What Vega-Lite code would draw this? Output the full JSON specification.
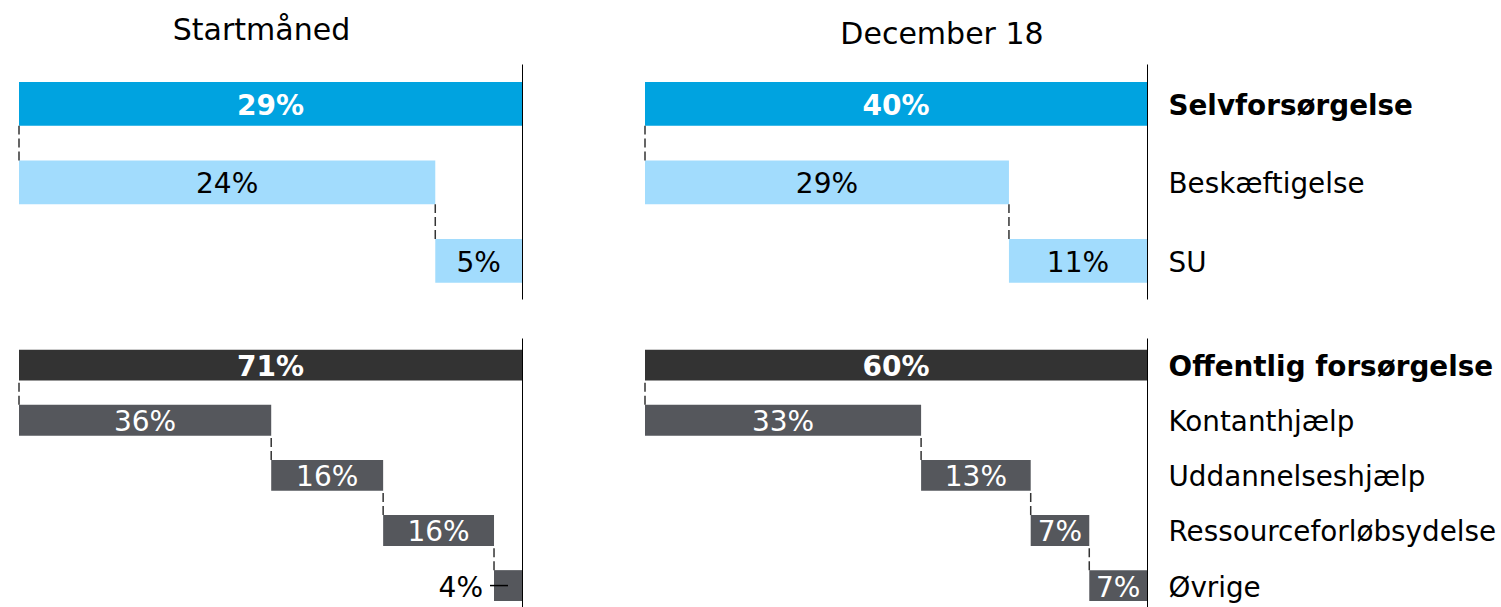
{
  "$schema": "https://vega.github.io/schema/vega-lite/v6.json",
  "background": "white",
  "padding": {"left": 18, "top": 16, "right": 0, "bottom": 0},
  "config": {
    "view": {"stroke": null},
    "font": "DejaVu Sans",
    "axis": {"grid": false}
  },
  "data": {
    "values": [
      {"panel": "Startmåned", "grp": "selv", "cat": "Selvforsørgelse", "kind": "selv_total", "level": "total", "value": 0.29, "start": 0, "end": 0.29, "prev": null},
      {"panel": "Startmåned", "grp": "selv", "cat": "Beskæftigelse", "kind": "selv_sub", "level": "sub", "value": 0.24, "start": 0, "end": 0.24, "prev": "Selvforsørgelse"},
      {"panel": "Startmåned", "grp": "selv", "cat": "SU", "kind": "selv_sub", "level": "sub", "value": 0.05, "start": 0.24, "end": 0.29, "prev": "Beskæftigelse"},
      {"panel": "Startmåned", "grp": "off", "cat": "Offentlig forsørgelse", "kind": "off_total", "level": "total", "value": 0.71, "start": 0, "end": 0.71, "prev": null},
      {"panel": "Startmåned", "grp": "off", "cat": "Kontanthjælp", "kind": "off_sub", "level": "sub", "value": 0.36, "start": 0, "end": 0.356, "prev": "Offentlig forsørgelse"},
      {"panel": "Startmåned", "grp": "off", "cat": "Uddannelseshjælp", "kind": "off_sub", "level": "sub", "value": 0.16, "start": 0.356, "end": 0.514, "prev": "Kontanthjælp"},
      {"panel": "Startmåned", "grp": "off", "cat": "Ressourceforløbsydelse", "kind": "off_sub", "level": "sub", "value": 0.16, "start": 0.514, "end": 0.6705, "prev": "Uddannelseshjælp"},
      {"panel": "Startmåned", "grp": "off", "cat": "Øvrige", "kind": "off_sub", "level": "sub", "value": 0.04, "start": 0.6705, "end": 0.71, "prev": "Ressourceforløbsydelse"},
      {"panel": "December 18", "grp": "selv", "cat": "Selvforsørgelse", "kind": "selv_total", "level": "total", "value": 0.40, "start": 0, "end": 0.40, "prev": null},
      {"panel": "December 18", "grp": "selv", "cat": "Beskæftigelse", "kind": "selv_sub", "level": "sub", "value": 0.29, "start": 0, "end": 0.29, "prev": "Selvforsørgelse"},
      {"panel": "December 18", "grp": "selv", "cat": "SU", "kind": "selv_sub", "level": "sub", "value": 0.11, "start": 0.29, "end": 0.40, "prev": "Beskæftigelse"},
      {"panel": "December 18", "grp": "off", "cat": "Offentlig forsørgelse", "kind": "off_total", "level": "total", "value": 0.60, "start": 0, "end": 0.60, "prev": null},
      {"panel": "December 18", "grp": "off", "cat": "Kontanthjælp", "kind": "off_sub", "level": "sub", "value": 0.33, "start": 0, "end": 0.33, "prev": "Offentlig forsørgelse"},
      {"panel": "December 18", "grp": "off", "cat": "Uddannelseshjælp", "kind": "off_sub", "level": "sub", "value": 0.13, "start": 0.33, "end": 0.461, "prev": "Kontanthjælp"},
      {"panel": "December 18", "grp": "off", "cat": "Ressourceforløbsydelse", "kind": "off_sub", "level": "sub", "value": 0.07, "start": 0.461, "end": 0.531, "prev": "Uddannelseshjælp"},
      {"panel": "December 18", "grp": "off", "cat": "Øvrige", "kind": "off_sub", "level": "sub", "value": 0.07, "start": 0.531, "end": 0.60, "prev": "Ressourceforløbsydelse"}
    ]
  },
  "spacing": 39,
  "vconcat": [
    {
      "spacing": 122,
      "hconcat": [
        {
          "width": 503, "height": 235,
          "title": {"text": "Startmåned", "fontSize": 30, "fontWeight": "normal", "color": "black", "anchor": "middle", "baseline": "bottom", "offset": -12, "dx": -9},
          "transform": [{"filter": "datum.panel == 'Startmåned' && datum.grp == 'selv'"}],
          "encoding": {
            "y": {"field": "cat", "type": "nominal", "scale": {"domain": ["Selvforsørgelse", "Beskæftigelse", "SU"], "paddingInner": 0.443, "paddingOuter": 0.2185, "align": 0.525},
                  "axis": {"orient": "right", "labels": false, "ticks": false, "domain": true, "domainColor": "black", "domainWidth": 1, "title": null}}
          },
          "layer": [
            {"mark": {"type": "bar"},
             "encoding": {"x": {"field": "start", "type": "quantitative", "scale": {"nice": false, "zero": true}, "axis": null}, "x2": {"field": "end"},
                          "color": {"field": "kind", "type": "nominal", "scale": {"domain": ["selv_total", "selv_sub", "off_total", "off_sub"], "range": ["#00A3E0", "#A2DCFD", "#333333", "#55575C"]}, "legend": null}}},
            {"transform": [{"filter": "isValid(datum.prev)"}],
             "mark": {"type": "rule", "strokeDash": [9, 4], "strokeWidth": 1.5, "color": "#333333"},
             "encoding": {"x": {"field": "start", "type": "quantitative", "axis": null}, "y": {"field": "cat", "type": "nominal", "bandPosition": 0}, "y2": {"field": "prev", "bandPosition": 1}}},
            {"transform": [{"fold": ["start", "end"], "as": ["edge", "pos"]}, {"aggregate": [{"op": "mean", "field": "pos", "as": "mid"}], "groupby": ["cat", "value", "kind", "level", "start"]}, {"filter": "datum.level == 'total'"}],
             "mark": {"type": "text", "fontSize": 28, "fontWeight": "bold", "color": "white", "dy": 3},
             "encoding": {"x": {"field": "mid", "type": "quantitative", "axis": null}, "text": {"field": "value", "format": ".0%"}}},
            {"transform": [{"fold": ["start", "end"], "as": ["edge", "pos"]}, {"aggregate": [{"op": "mean", "field": "pos", "as": "mid"}], "groupby": ["cat", "value", "kind", "level", "start"]}, {"filter": "datum.level == 'sub' && datum.value >= 0.05"}],
             "mark": {"type": "text", "fontSize": 28, "dy": 3},
             "encoding": {"x": {"field": "mid", "type": "quantitative", "axis": null}, "text": {"field": "value", "format": ".0%"},
                          "color": {"condition": {"test": "datum.kind == 'selv_sub'", "value": "black"}, "value": "white"}}}
          ]
        },
        {
          "width": 502, "height": 235,
          "title": {"text": "December 18", "fontSize": 30, "fontWeight": "normal", "color": "black", "anchor": "middle", "baseline": "bottom", "offset": -16, "dx": 46},
          "transform": [{"filter": "datum.panel == 'December 18' && datum.grp == 'selv'"}],
          "encoding": {
            "y": {"field": "cat", "type": "nominal", "scale": {"domain": ["Selvforsørgelse", "Beskæftigelse", "SU"], "paddingInner": 0.443, "paddingOuter": 0.2185, "align": 0.525},
                  "axis": {"orient": "right", "labels": true, "labelFontSize": 27.8, "labelColor": "black", "labelPadding": 21, "labelLimit": 600, "labelOffset": 3,
                           "labelFontWeight": {"condition": {"test": "datum.value == 'Selvforsørgelse' || datum.value == 'Offentlig forsørgelse'", "value": "bold"}, "value": "normal"},
                           "ticks": false, "domain": true, "domainColor": "black", "domainWidth": 1, "title": null}}
          },
          "layer": [
            {"mark": {"type": "bar"},
             "encoding": {"x": {"field": "start", "type": "quantitative", "scale": {"nice": false, "zero": true}, "axis": null}, "x2": {"field": "end"},
                          "color": {"field": "kind", "type": "nominal", "scale": {"domain": ["selv_total", "selv_sub", "off_total", "off_sub"], "range": ["#00A3E0", "#A2DCFD", "#333333", "#55575C"]}, "legend": null}}},
            {"transform": [{"filter": "isValid(datum.prev)"}],
             "mark": {"type": "rule", "strokeDash": [9, 4], "strokeWidth": 1.5, "color": "#333333"},
             "encoding": {"x": {"field": "start", "type": "quantitative", "axis": null}, "y": {"field": "cat", "type": "nominal", "bandPosition": 0}, "y2": {"field": "prev", "bandPosition": 1}}},
            {"transform": [{"fold": ["start", "end"], "as": ["edge", "pos"]}, {"aggregate": [{"op": "mean", "field": "pos", "as": "mid"}], "groupby": ["cat", "value", "kind", "level", "start"]}, {"filter": "datum.level == 'total'"}],
             "mark": {"type": "text", "fontSize": 28, "fontWeight": "bold", "color": "white", "dy": 3},
             "encoding": {"x": {"field": "mid", "type": "quantitative", "axis": null}, "text": {"field": "value", "format": ".0%"}}},
            {"transform": [{"fold": ["start", "end"], "as": ["edge", "pos"]}, {"aggregate": [{"op": "mean", "field": "pos", "as": "mid"}], "groupby": ["cat", "value", "kind", "level", "start"]}, {"filter": "datum.level == 'sub' && datum.value >= 0.05"}],
             "mark": {"type": "text", "fontSize": 28, "dy": 3},
             "encoding": {"x": {"field": "mid", "type": "quantitative", "axis": null}, "text": {"field": "value", "format": ".0%"},
                          "color": {"condition": {"test": "datum.kind == 'selv_sub'", "value": "black"}, "value": "white"}}}
          ]
        }
      ]
    },
    {
      "spacing": 122,
      "hconcat": [
        {
          "width": 503, "height": 270,
          "transform": [{"filter": "datum.panel == 'Startmåned' && datum.grp == 'off'"}],
          "encoding": {
            "y": {"field": "cat", "type": "nominal", "scale": {"domain": ["Offentlig forsørgelse", "Kontanthjælp", "Uddannelseshjælp", "Ressourceforløbsydelse", "Øvrige"], "paddingInner": 0.44, "paddingOuter": 0.17, "align": 0.626},
                  "axis": {"orient": "right", "labels": false, "ticks": false, "domain": true, "domainColor": "black", "domainWidth": 1, "title": null}}
          },
          "layer": [
            {"mark": {"type": "bar"},
             "encoding": {"x": {"field": "start", "type": "quantitative", "scale": {"nice": false, "zero": true}, "axis": null}, "x2": {"field": "end"},
                          "color": {"field": "kind", "type": "nominal", "scale": {"domain": ["selv_total", "selv_sub", "off_total", "off_sub"], "range": ["#00A3E0", "#A2DCFD", "#333333", "#55575C"]}, "legend": null}}},
            {"transform": [{"filter": "isValid(datum.prev)"}],
             "mark": {"type": "rule", "strokeDash": [9, 4], "strokeWidth": 1.5, "color": "#333333"},
             "encoding": {"x": {"field": "start", "type": "quantitative", "axis": null}, "y": {"field": "cat", "type": "nominal", "bandPosition": 0}, "y2": {"field": "prev", "bandPosition": 1}}},
            {"transform": [{"fold": ["start", "end"], "as": ["edge", "pos"]}, {"aggregate": [{"op": "mean", "field": "pos", "as": "mid"}], "groupby": ["cat", "value", "kind", "level", "start"]}, {"filter": "datum.level == 'total'"}],
             "mark": {"type": "text", "fontSize": 28, "fontWeight": "bold", "color": "white", "dy": 3},
             "encoding": {"x": {"field": "mid", "type": "quantitative", "axis": null}, "text": {"field": "value", "format": ".0%"}}},
            {"transform": [{"fold": ["start", "end"], "as": ["edge", "pos"]}, {"aggregate": [{"op": "mean", "field": "pos", "as": "mid"}], "groupby": ["cat", "value", "kind", "level", "start"]}, {"filter": "datum.level == 'sub' && datum.value >= 0.05"}],
             "mark": {"type": "text", "fontSize": 28, "dy": 3},
             "encoding": {"x": {"field": "mid", "type": "quantitative", "axis": null}, "text": {"field": "value", "format": ".0%"},
                          "color": {"condition": {"test": "datum.kind == 'selv_sub'", "value": "black"}, "value": "white"}}},
            {"transform": [{"filter": "datum.value < 0.05"}],
             "mark": {"type": "text", "fontSize": 28, "align": "right", "dx": -11, "dy": 3, "color": "black"},
             "encoding": {"x": {"field": "start", "type": "quantitative", "axis": null}, "text": {"field": "value", "format": ".0%"}}},
            {"transform": [{"fold": ["start", "end"], "as": ["edge", "pos"]}, {"aggregate": [{"op": "mean", "field": "pos", "as": "mid"}], "groupby": ["cat", "value", "kind", "level", "start"]}, {"filter": "datum.value < 0.05"}],
             "mark": {"type": "rule", "strokeWidth": 1.5, "color": "black", "xOffset": -4},
             "encoding": {"x": {"field": "start", "type": "quantitative", "axis": null}, "x2": {"field": "mid"}}}
          ]
        },
        {
          "width": 502, "height": 270,
          "transform": [{"filter": "datum.panel == 'December 18' && datum.grp == 'off'"}],
          "encoding": {
            "y": {"field": "cat", "type": "nominal", "scale": {"domain": ["Offentlig forsørgelse", "Kontanthjælp", "Uddannelseshjælp", "Ressourceforløbsydelse", "Øvrige"], "paddingInner": 0.44, "paddingOuter": 0.17, "align": 0.626},
                  "axis": {"orient": "right", "labels": true, "labelFontSize": 27.8, "labelColor": "black", "labelPadding": 21, "labelLimit": 600, "labelOffset": 3,
                           "labelFontWeight": {"condition": {"test": "datum.value == 'Selvforsørgelse' || datum.value == 'Offentlig forsørgelse'", "value": "bold"}, "value": "normal"},
                           "ticks": false, "domain": true, "domainColor": "black", "domainWidth": 1, "title": null}}
          },
          "layer": [
            {"mark": {"type": "bar"},
             "encoding": {"x": {"field": "start", "type": "quantitative", "scale": {"nice": false, "zero": true}, "axis": null}, "x2": {"field": "end"},
                          "color": {"field": "kind", "type": "nominal", "scale": {"domain": ["selv_total", "selv_sub", "off_total", "off_sub"], "range": ["#00A3E0", "#A2DCFD", "#333333", "#55575C"]}, "legend": null}}},
            {"transform": [{"filter": "isValid(datum.prev)"}],
             "mark": {"type": "rule", "strokeDash": [9, 4], "strokeWidth": 1.5, "color": "#333333"},
             "encoding": {"x": {"field": "start", "type": "quantitative", "axis": null}, "y": {"field": "cat", "type": "nominal", "bandPosition": 0}, "y2": {"field": "prev", "bandPosition": 1}}},
            {"transform": [{"fold": ["start", "end"], "as": ["edge", "pos"]}, {"aggregate": [{"op": "mean", "field": "pos", "as": "mid"}], "groupby": ["cat", "value", "kind", "level", "start"]}, {"filter": "datum.level == 'total'"}],
             "mark": {"type": "text", "fontSize": 28, "fontWeight": "bold", "color": "white", "dy": 3},
             "encoding": {"x": {"field": "mid", "type": "quantitative", "axis": null}, "text": {"field": "value", "format": ".0%"}}},
            {"transform": [{"fold": ["start", "end"], "as": ["edge", "pos"]}, {"aggregate": [{"op": "mean", "field": "pos", "as": "mid"}], "groupby": ["cat", "value", "kind", "level", "start"]}, {"filter": "datum.level == 'sub' && datum.value >= 0.05"}],
             "mark": {"type": "text", "fontSize": 28, "dy": 3},
             "encoding": {"x": {"field": "mid", "type": "quantitative", "axis": null}, "text": {"field": "value", "format": ".0%"},
                          "color": {"condition": {"test": "datum.kind == 'selv_sub'", "value": "black"}, "value": "white"}}}
          ]
        }
      ]
    }
  ]
}
